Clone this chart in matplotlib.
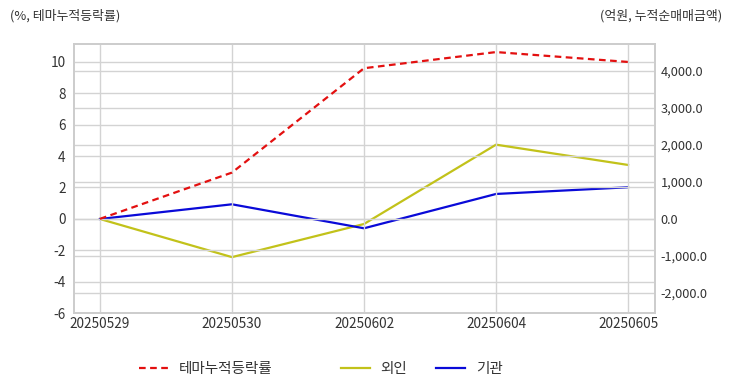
import numpy as np
import matplotlib.pyplot as plt
from matplotlib.ticker import FuncFormatter, MultipleLocator

plt.rcParams['font.family'] = ['Noto Sans CJK KR', 'DejaVu Sans']
plt.rcParams['axes.unicode_minus'] = False

# data
dates = ['20250529', '20250530', '20250602', '20250604', '20250605']
theme_rate = [0.0, 2.95, 9.6, 10.63, 10.0]        # %, left axis
foreign = [0.0, -1030.0, -135.0, 2008.0, 1460.0]    # 억원, right axis
institution = [0.0, 397.0, -251.0, 676.0, 857.0]    # 억원, right axis

RED = '#e31010'
YELLOW = '#c2c21a'
BLUE = '#0a0ad8'
GRID = '#d3d3d3'
TXT = '#333333'

fig = plt.figure(figsize=(7.32, 3.92), dpi=100)
ax = fig.add_axes([0.101, 0.2015, 0.794, 0.6865])
ax2 = ax.twinx()

x = np.arange(len(dates))

# right axis (behind)
l2, = ax2.plot(x, foreign, color=YELLOW, lw=1.6, label='외인')
l3, = ax2.plot(x, institution, color=BLUE, lw=1.6, label='기관')
ax2.set_ylim(-2540, 4730)
ax2.yaxis.set_major_locator(MultipleLocator(1000))
ax2.yaxis.set_major_formatter(FuncFormatter(lambda v, p: f'{v:,.1f}'))
ax2.grid(axis='y', color=GRID, lw=1)

# left axis (front)
ax.set_zorder(ax2.get_zorder() + 1)
ax.patch.set_visible(False)
l1, = ax.plot(x, theme_rate, color=RED, lw=1.6, ls=(0, (3, 2)), label='테마누적등락률')
ax.set_ylim(-6, 11.15)
ax.yaxis.set_major_locator(MultipleLocator(2))
ax.set_xlim(-0.197, 4.205)
ax.set_xticks(x)
ax.set_xticklabels(dates)
ax.grid(color=GRID, lw=1)

for a in (ax, ax2):
    a.tick_params(length=0, labelsize=9.8, colors=TXT)
    for s in a.spines.values():
        s.set_color('#cccccc')
        s.set_linewidth(1.2)
ax.tick_params(axis='y', pad=6)
ax2.tick_params(axis='y', pad=4, labelsize=9.2)
ax.tick_params(axis='x', pad=3)

fig.text(10 / 732, 1 - 16 / 392, '(%, 테마누적등락률)', fontsize=9.3, color=TXT, va='center', ha='left')
fig.text(722 / 732, 1 - 16 / 392, '(억원, 누적순매매금액)', fontsize=9.3, color=TXT, va='center', ha='right')

kw = dict(frameon=False, fontsize=10.5, handlelength=2.0, handletextpad=0.7,
          borderpad=0, borderaxespad=0, labelcolor=TXT, columnspacing=2.0)
fig.legend(handles=[l1], loc='center left', bbox_to_anchor=(139 / 732, 1 - 369 / 392), **kw)
fig.legend(handles=[l2, l3], loc='center left', bbox_to_anchor=(341 / 732, 1 - 369 / 392), ncol=2, **kw)

fig.savefig('out.png', dpi=100)
